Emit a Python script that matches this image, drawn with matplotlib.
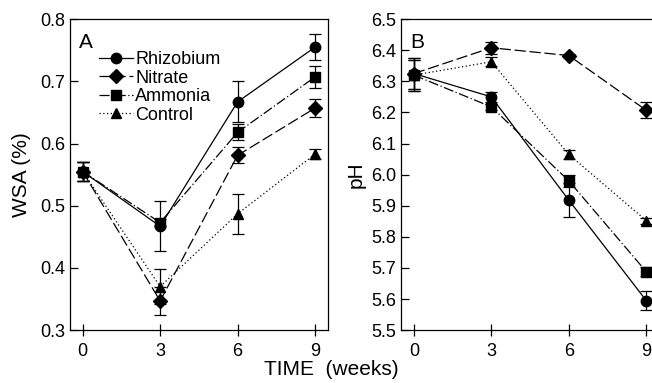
import matplotlib
matplotlib.use('Agg')
import matplotlib.pyplot as plt
from matplotlib.lines import Line2D

plt.rcParams['font.family'] = ['Liberation Sans', 'DejaVu Sans']

# data
weeks = [0, 3, 6, 9]

wsa_rhizobium = [0.555, 0.467, 0.667, 0.755]
wsa_rhizobium_err = [0.015, 0.040, 0.033, 0.021]
wsa_nitrate = [0.555, 0.347, 0.581, 0.657]
wsa_nitrate_err = [0.015, 0.022, 0.013, 0.015]
wsa_ammonia = [0.555, 0.473, 0.618, 0.707]
wsa_ammonia_err = [0.015, 0.005, 0.013, 0.017]
wsa_control = [0.555, 0.370, 0.487, 0.583]
wsa_control_err = [0.015, 0.028, 0.032, 0.008]

ph_rhizobium = [6.325, 6.250, 5.918, 5.595]
ph_rhizobium_err = [0.050, 0.015, 0.055, 0.030]
ph_nitrate = [6.325, 6.408, 6.383, 6.207]
ph_nitrate_err = [0.050, 0.020, 0.005, 0.025]
ph_ammonia = [6.320, 6.218, 5.980, 5.688]
ph_ammonia_err = [0.050, 0.010, 0.020, 0.015]
ph_control = [6.320, 6.363, 6.065, 5.852]
ph_control_err = [0.050, 0.015, 0.015, 0.010]

labels = ['Rhizobium', 'Nitrate', 'Ammonia', 'Control']
markers = ['o', 'D', 's', '^']
styles = ['-', (0, (9, 3)), (0, (8, 2, 1, 2)), (0, (1, 2))]
msizes = [7.5, 7, 6.5, 7]

fig = plt.figure(figsize=(6.52, 3.83), dpi=100)
axA = fig.add_axes([0.107, 0.138, 0.396, 0.812])
axB = fig.add_axes([0.615, 0.138, 0.396, 0.812])

def panel(ax, series, errs):
    for y, e, lab, m, ls, ms in zip(series, errs, labels, markers, styles, msizes):
        ax.errorbar(weeks, y, yerr=e, color='black', marker=m, ms=ms,
                    linestyle=ls, lw=0.9, elinewidth=0.9, capsize=4.5, capthick=0.9)
    ax.set_xlim(-0.5, 9.5)
    ax.set_xticks(weeks)
    ax.tick_params(direction='in', labelsize=13, length=6, width=0.9)
    ax.tick_params(axis='x', direction='inout', length=9, pad=5)
    for s in ax.spines.values():
        s.set_linewidth(0.9)

panel(axA, [wsa_rhizobium, wsa_nitrate, wsa_ammonia, wsa_control],
      [wsa_rhizobium_err, wsa_nitrate_err, wsa_ammonia_err, wsa_control_err])
axA.set_ylim(0.3, 0.8)
axA.set_yticks([0.3, 0.4, 0.5, 0.6, 0.7, 0.8])
axA.set_yticklabels(['0.3', '0.4', '0.5', '0.6', '0.7', '0.8'])
axA.set_ylabel('WSA (%)', fontsize=15, labelpad=6)
axA.text(0.035, 0.925, 'A', transform=axA.transAxes, fontsize=15, va='center')

handles = [Line2D([], [], color='black', marker=m, ms=ms, linestyle=ls, lw=0.9)
           for m, ls, ms in zip(markers, styles, msizes)]
axA.legend(handles, labels, loc='upper left', bbox_to_anchor=(0.085, 0.92),
           frameon=False, fontsize=13, handlelength=1.9, handletextpad=0.1,
           labelspacing=0.08, borderaxespad=0)

panel(axB, [ph_rhizobium, ph_nitrate, ph_ammonia, ph_control],
      [ph_rhizobium_err, ph_nitrate_err, ph_ammonia_err, ph_control_err])
axB.set_ylim(5.5, 6.5)
ph_ticks = [5.5, 5.6, 5.7, 5.8, 5.9, 6.0, 6.1, 6.2, 6.3, 6.4, 6.5]
axB.set_yticks(ph_ticks)
axB.set_yticklabels(['%.1f' % v for v in ph_ticks])
axB.set_ylabel('pH', fontsize=15, labelpad=4)
axB.text(0.035, 0.925, 'B', transform=axB.transAxes, fontsize=15, va='center')

fig.text(0.508, 0.02, 'TIME  (weeks)', ha='center', fontsize=15)

fig.savefig('out.png', dpi=100)
